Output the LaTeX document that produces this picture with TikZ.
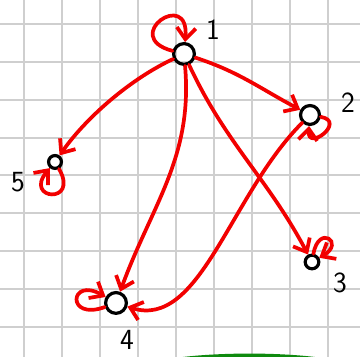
\documentclass[tikz,border=0pt]{standalone}
\usepackage{tikz}
\usetikzlibrary{arrows.meta}
\definecolor{rot}{HTML}{F20000}
\definecolor{gitterg}{HTML}{CFCFCF}
\definecolor{gruen}{HTML}{0E8A0E}
\tikzset{
  gitter/.style={gitterg,line width=1.5pt},
  knoten/.style={circle,draw=black,line width=2.4pt,inner sep=0pt,minimum size=0.55cm},
  kante/.style={-{Straight Barb[length=3mm,width=5mm]},rot,line width=2.8pt,line cap=round},
  marke/.style={font=\sffamily\fontsize{22}{24}\selectfont,inner sep=0pt},
}
\begin{document}
\begin{tikzpicture}
  \useasboundingbox (0,0) rectangle (9.524,9.444);
  \fill[white] (0,0) rectangle (9.524,9.444);
  % Kaestchenpapier
  \foreach \i in {0,...,8}{
    \draw[gitter] ({0.635+1.005*\i},0)--({0.635+1.005*\i},9.444);
    \draw[gitter] (0,{0.794+1.002*\i})--(9.524,{0.794+1.002*\i});
  }
  \fill[gruen] (4.84,0) .. controls (5.9,0.12) and (7.3,0.12) .. (8.33,0) -- cycle;
  % Knoten
  \node[knoten] (n1) at (4.868,8.016) {};
  \node[knoten,minimum size=0.5cm] (n2) at (8.201,6.402) {};
  \node[knoten,minimum size=0.36cm] (n3) at (8.254,2.513) {};
  \node[knoten] (n4) at (3.069,1.429) {};
  \node[knoten,minimum size=0.34cm] (n5) at (1.455,5.159) {};
  \node[marke] (t1) at (5.635,8.651) {1};
  \node[marke] (t2) at (9.206,6.720) {2};
  \node[marke] (t3) at (8.995,1.958) {3};
  \node[marke] (t4) at (3.360,0.450) {4};
  \node[marke] (t5) at (0.476,4.630) {5};
  % Kanten
  \draw[kante] (n1) to[out=205,in=55,looseness=0.8] (n5);
  \draw[kante] (n1) to[out=-85,in=70] (n4);
  \draw[kante] (n1) to[out=-18,in=152] (n2);
  \draw[kante] (n1) to[out=-65,in=118] (n3);
  \draw[kante] (n2) .. controls (6.085,4.286) and (5.291,0.714) .. (n4);
  % Schlaufen
  \draw[kante] (n1) to[out=165,in=85,min distance=1.45cm] (n1);
  \draw[kante] (n2) to[out=-10,in=-95,min distance=0.7cm] (n2);
  \draw[kante] (n3) to[out=80,in=30,min distance=0.8cm] (n3);
  \draw[kante] (n4) to[out=200,in=150,min distance=1.1cm] (n4);
  \draw[kante] (n5) to[out=-60,in=-130,min distance=1.1cm] (n5);
\end{tikzpicture}
\end{document}
